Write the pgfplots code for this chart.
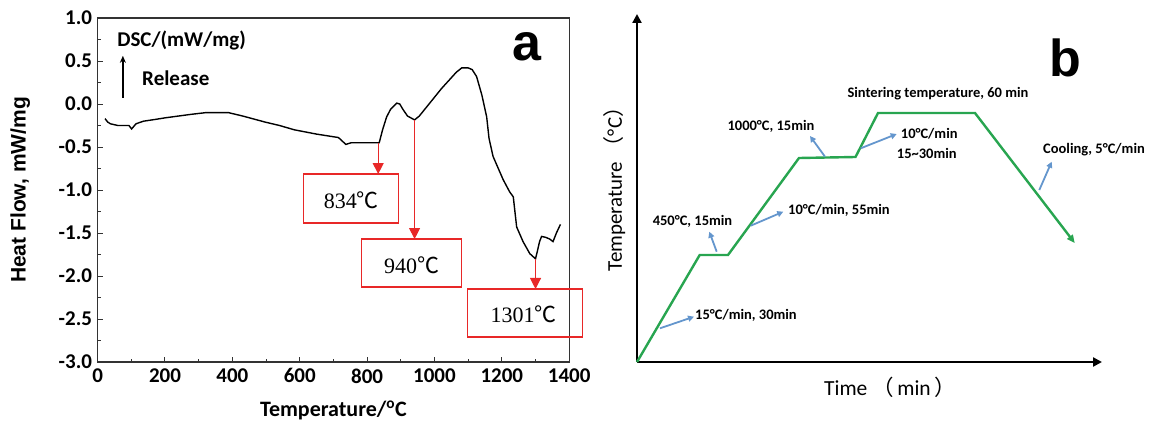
\documentclass[border=0pt]{standalone}
\usepackage{fontspec}
\setmainfont{Carlito}
\newfontfamily\lib{Liberation Sans}
\newfontfamily\tnr{Liberation Serif}
\newfontfamily\cjk{Noto Sans CJK SC}
\usepackage{pgfplots}
\usepackage{pgfplotstable}
\pgfplotsset{compat=1.18}
\usetikzlibrary{arrows.meta}

\definecolor{pgreen}{RGB}{40,165,80}
\definecolor{pblue}{RGB}{100,150,205}
\definecolor{pred}{RGB}{232,40,40}

\pgfplotstableread{
x y
22 -0.17
30 -0.21
38 -0.23
60 -0.25
93 -0.25
101 -0.29
114 -0.23
136 -0.20
170 -0.18
202 -0.16
240 -0.14
278 -0.12
322 -0.10
388 -0.10
431 -0.14
497 -0.21
540 -0.25
584 -0.30
650 -0.35
715 -0.39
737 -0.47
753 -0.45
802 -0.45
836 -0.45
846 -0.30
858 -0.15
870 -0.06
888 0.01
897 0.00
906 -0.06
920 -0.14
941 -0.185
955 -0.14
988 0.02
1021 0.18
1065 0.37
1081 0.42
1100 0.42
1112 0.40
1125 0.32
1141 0.10
1155 -0.15
1162 -0.40
1174 -0.61
1204 -0.88
1223 -1.02
1234 -1.08
1244 -1.43
1263 -1.60
1283 -1.74
1300 -1.80
1305 -1.72
1312 -1.60
1318 -1.54
1330 -1.55
1342 -1.57
1352 -1.60
1362 -1.50
1368 -1.45
1374 -1.40
}\dsc

\pgfplotstableread{
x y
0 0
62.7 107
91 107
162 204
218.5 205
241 249
338 249
437.7 119
}\profile

\begin{document}
\begin{tikzpicture}
\path[use as bounding box] (0pt,0pt) rectangle (1149pt,-422pt);

% ---------------- panel a ----------------
\begin{axis}[
  at={(97.6pt,-362pt)}, anchor=south west,
  scale only axis, width=471.6pt, height=344pt,
  xmin=0, xmax=1400, ymin=-3, ymax=1,
  clip=false,
  axis line style={line width=1.2pt, black!80},
  xtick={0,200,400,600,800,1000,1200,1400},
  xticklabels={0,200,400,600,800,1000,1200,1400},
  minor xtick={100,300,500,700,900,1100,1300},
  ytick={-3,-2.5,-2,-1.5,-1,-0.5,0,0.5,1},
  yticklabels={-3.0,-2.5,-2.0,-1.5,-1.0,-0.5,0.0,0.5,1.0},
  minor ytick={-2.75,-2.25,-1.75,-1.25,-0.75,-0.25,0.25,0.75},
  tick align=inside, xtick pos=bottom, ytick pos=left,
  major tick length=5pt, minor tick length=3pt,
  tick style={line width=1pt, black!80},
  ticklabel style={font=\fontsize{21}{21}\selectfont\bfseries},
  xticklabel style={yshift=-3pt},
  yticklabel style={xshift=-2pt},
]
\addplot[black, line width=1.4pt] table[x=x,y=y] {\dsc};

\node[anchor=center, font=\fontsize{22}{22}\selectfont\bfseries] at (axis cs:700,-3.56) {Temperature/\textsuperscript{o}C};
\node[rotate=90, anchor=center, font=\lib\fontsize{21}{21}\selectfont\bfseries] at (axis cs:-230,-1) {Heat Flow, mW/mg};

\node[anchor=west, font=\fontsize{21}{21}\selectfont\bfseries] at (axis cs:48,0.744) {DSC/(mW/mg)};
\node[anchor=west, font=\fontsize{21}{21}\selectfont\bfseries] at (axis cs:122,0.302) {Release};
\draw[black, line width=1.5pt, -{Stealth[length=7pt,width=6pt]}] (axis cs:75,0.07) -- (axis cs:75,0.56);
\node[anchor=center, font=\lib\fontsize{52}{52}\selectfont\bfseries] at (axis cs:1274,0.66) {a};

% boxes
\draw[pred, line width=1.3pt] (axis cs:612,-0.814) rectangle (axis cs:894,-1.384);
\node[font=\fontsize{22}{22}\selectfont] at (axis cs:753,-1.12) {{\tnr 834}{\cjk ℃}};
\draw[pred, line width=1.3pt] (axis cs:784,-1.570) rectangle (axis cs:1081,-2.128);
\node[font=\fontsize{22}{22}\selectfont] at (axis cs:932,-1.87) {{\tnr 940}{\cjk ℃}};
\draw[pred, line width=1.3pt] (axis cs:1099,-2.151) rectangle (axis cs:1440,-2.709);
\node[font=\fontsize{22}{22}\selectfont] at (axis cs:1265,-2.45) {{\tnr 1301}{\cjk ℃}};

\draw[pred, line width=1.1pt, -{Triangle[length=11pt,width=11pt]}] (axis cs:833,-0.45) -- (axis cs:833,-0.814);
\draw[pred, line width=1.1pt, -{Triangle[length=11pt,width=11pt]}] (axis cs:941,-0.19) -- (axis cs:941,-1.570);
\draw[pred, line width=1.1pt, -{Triangle[length=11pt,width=11pt]}] (axis cs:1300,-1.80) -- (axis cs:1300,-2.151);
\end{axis}

% ---------------- panel b ----------------
\begin{axis}[
  at={(637pt,-362pt)}, anchor=south west,
  scale only axis, width=465pt, height=348pt,
  xmin=0, xmax=465, ymin=0, ymax=348,
  axis lines=left,
  axis line style={line width=2.2pt, black, -{Triangle[length=9pt,width=9pt]}},
  xtick=\empty, ytick=\empty,
  clip=false,
]
\addplot[pgreen, line width=2.4pt, -{Triangle[length=8pt,width=7pt]}] table[x=x,y=y] {\profile};

\node[rotate=90, anchor=center, font=\fontsize{21}{21}\selectfont] at (axis cs:-22.5,178) {Temperature\ {\cjk （}°C{\cjk ）}};
\node[anchor=center, font=\fontsize{21.5}{21.5}\selectfont] at (axis cs:253,-25) {Time\ {\cjk （}\,min\,{\cjk ）}};
\node[anchor=center, font=\lib\fontsize{52}{52}\selectfont\bfseries] at (axis cs:428.6,304.5) {b};

\begin{scope}[every node/.style={font=\fontsize{14.5}{15}\selectfont\bfseries, inner sep=0pt}]
\draw[pblue, line width=1.8pt, -{Triangle[length=6pt,width=6pt]}] (axis cs:23,33.7) -- (axis cs:57,45.3);
\node[anchor=west] at (axis cs:58,47) {15°C/min, 30min};
\draw[pblue, line width=1.8pt, -{Triangle[length=6pt,width=6pt]}] (axis cs:79.7,110.3) -- (axis cs:72.3,130.3);
\node[anchor=center] at (axis cs:55.5,141) {450°C, 15min};
\draw[pblue, line width=1.8pt, -{Triangle[length=6pt,width=6pt]}] (axis cs:113.7,136.3) -- (axis cs:146.3,150.3);
\node[anchor=west] at (axis cs:151,152) {10°C/min, 55min};
\draw[pblue, line width=1.8pt, -{Triangle[length=6pt,width=6pt]}] (axis cs:188,205.3) -- (axis cs:173,226);
\node[anchor=center] at (axis cs:134,235.3) {1000°C, 15min};
\draw[pblue, line width=1.8pt, -{Triangle[length=6pt,width=6pt]}] (axis cs:223.7,213.7) -- (axis cs:259.7,228);
\node[anchor=west] at (axis cs:263.7,228) {10°C/min};
\node[anchor=west] at (axis cs:259.7,208.7) {15\textasciitilde30min};
\node[anchor=center] at (axis cs:301,268.7) {Sintering temperature, 60 min};
\draw[pblue, line width=1.8pt, -{Triangle[length=6pt,width=6pt]}] (axis cs:402.3,172) -- (axis cs:414.7,200.3);
\node[anchor=west] at (axis cs:406,212.7) {Cooling, 5°C/min};
\end{scope}
\end{axis}
\end{tikzpicture}
\end{document}
